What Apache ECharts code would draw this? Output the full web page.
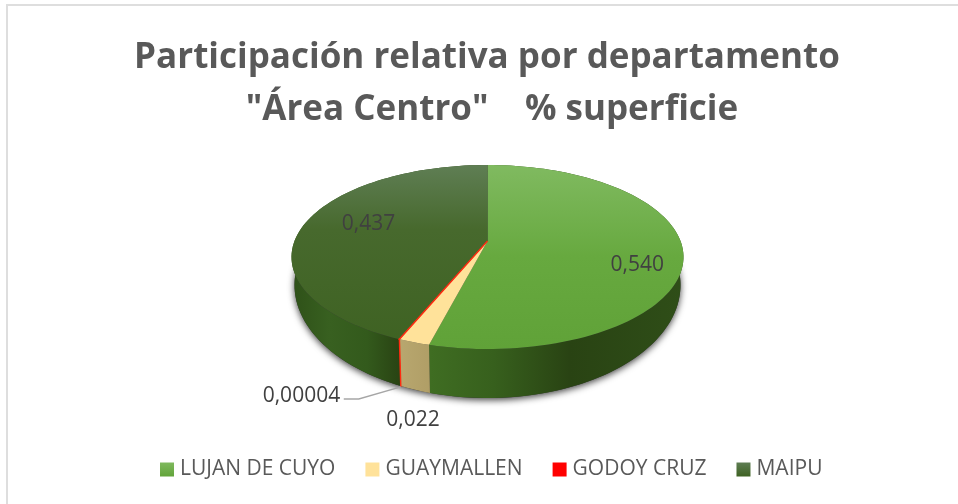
<!DOCTYPE html>
<html><head><meta charset="utf-8">
<style>html,body{margin:0;padding:0;background:#fff}#c{width:958px;height:504px}</style>
<script src="https://cdn.jsdelivr.net/npm/echarts@6/dist/echarts.min.js"></script>
</head><body><div id="c"></div>
<script>
const titleLines = ['Participación relativa por departamento', '"Área Centro"    % superficie'];
const categories = ['LUJAN DE CUYO', 'GUAYMALLEN', 'GODOY CRUZ', 'MAIPU'];
const values = [0.540, 0.022, 0.00004, 0.437];
const valueLabels = ['0,540', '0,022', '0,00004', '0,437'];

const chart = echarts.init(document.getElementById('c'));
const LG = (x0, y0, x1, y1, stops, global) => new echarts.graphic.LinearGradient(x0, y0, x1, y1,
  stops.map(s => ({offset: s[0], color: s[1]})), global);

// projection of the pie disc: perspective ellipse
const G = {cx: 487.5, cy: 257, rx: 196, ry: 92, R: 193, apexY: 241, a: 47.3, c: -0.174,
           bcy: 285, brx: 193, bry: 113};
function topPt(frac) {
  const th = frac * 2 * Math.PI, s = Math.sin(th), t = -Math.cos(th), d = 1 + G.c * t;
  return [G.cx + G.R * s / d, (G.a * t + G.apexY) / d];
}
function botPt(p) {
  return [G.cx + (p[0] - G.cx) / G.rx * G.brx, G.bcy + (p[1] - G.cy) / G.ry * G.bry];
}
function arc(f0, f1) {
  const n = Math.max(2, Math.ceil((f1 - f0) * 180)), out = [];
  for (let i = 0; i <= n; i++) out.push(topPt(f0 + (f1 - f0) * i / n));
  return out;
}
const total = values.reduce((a, b) => a + b, 0);
const starts = values.map((v, i) => values.slice(0, i).reduce((a, b) => a + b, 0));

const styles = [
  {legend: LG(0,0,0,1,[[0,'#7fb95e'],[1,'#62a43a']]),
   top: [[0,'#80ba60'],[0.5,'#67a93f'],[1,'#60a238']],
   side: {x0: 430, x1: 684, stops: [[0,'#3f6d22'],[0.25,'#37601d'],[0.55,'#294313'],[1,'#2f4e18']]},
   lab: [-46, 12]},
  {legend: '#ffe29a',
   top: [[0,'#ffe29a'],[1,'#ffe29a']],
   side: {x0: 400, x1: 430, stops: [[0,'#b8a76f'],[1,'#b09e66']]},
   lab: [-1, 78]},
  {legend: '#ff0000',
   top: [[0,'#ff2a10'],[1,'#ff2a10']],
   side: {x0: 398, x1: 401, stops: [[0,'#f03a18'],[1,'#f03a18']]},
   lab: [-98, 57], line: true},
  {legend: LG(0,0,0,1,[[0,'#5e7d53'],[1,'#3e6222']]),
   top: [[0,'#5f7e54'],[0.35,'#47692d'],[1,'#3e6222']],
   side: {x0: 291, x1: 400, stops: [[0,'#2e5018'],[0.35,'#386020'],[0.7,'#335a1c'],[1,'#294313']]},
   lab: [64, 0]}
];

function render(params, api) {
  const i = params.seriesIndex, st = styles[i];
  const f0 = api.value(0) / total, f1 = (api.value(0) + api.value(1)) / total;
  const thin = f1 - f0 < 0.001;
  const topArc = arc(f0, f1), botArc = topArc.map(botPt).reverse();
  const kids = [];
  if (i === 0) {
    const ring = arc(0, 1).map(botPt);
    kids.push({type: 'polygon', shape: {points: ring},
      style: {fill: '#333', shadowBlur: 7, shadowColor: 'rgba(0,0,0,0.75)', shadowOffsetY: 2}});
  }
  const stroke = thin ? {stroke: st.top[0][1], lineWidth: 1.4} : {};
  kids.push({type: 'polygon', shape: {points: topArc.concat(botArc)},
    style: Object.assign({fill: LG(st.side.x0, 0, st.side.x1, 0, st.side.stops, true)}, stroke)});
  kids.push({type: 'polygon', shape: {points: [[G.cx, G.apexY]].concat(topArc)},
    style: Object.assign({fill: LG(0, G.cy - G.ry, 0, G.cy + G.ry, st.top, true)}, stroke)});
  const mid = topPt((f0 + f1) / 2);
  if (st.line) {
    const b = botPt(mid);
    kids.push({type: 'polyline', shape: {points: [[b[0], b[1] + 1], [b[0] - 42, b[1] + 13], [b[0] - 57, b[1] + 13]]},
      style: {stroke: '#a6a6a6', lineWidth: 1.3, fill: null}});
  }
  kids.push({type: 'text', x: mid[0] + st.lab[0], y: mid[1] + st.lab[1], z2: 50,
    style: {text: valueLabels[i], fill: '#404040', font: '21px "Open Sans"', align: 'center', verticalAlign: 'middle'}});
  return {type: 'group', children: kids};
}

const titleStyle = {fontFamily: 'Open Sans', fontWeight: 'bold', fontSize: 35, lineHeight: 52, color: '#595959'};
chart.setOption({
  animation: false,
  backgroundColor: '#fff',
  title: [
    {text: titleLines[0], left: 482, top: 27, textAlign: 'center', textStyle: titleStyle},
    {text: titleLines[1], left: 487, top: 79, textAlign: 'center', textStyle: titleStyle}
  ],
  legend: {
    data: categories, left: 155, top: 454, icon: 'rect', itemWidth: 14, itemHeight: 14, itemGap: 30,
    textStyle: {fontFamily: 'Open Sans', fontSize: 21, color: '#595959', padding: [0, 0, 0, 1]},
    selectedMode: false
  },
  graphic: [{type: 'polyline', shape: {points: [[7, 504], [7, 5], [958, 5]]},
    style: {stroke: '#dedede', lineWidth: 2, fill: null}, silent: true, z: 0}],
  series: categories.map((name, i) => ({
    type: 'custom', name, coordinateSystem: 'none', z: i === 2 ? 5 : 2 + (i === 0 ? 0 : 1),
    itemStyle: {color: styles[i].legend},
    renderItem: render,
    data: [{name, value: [starts[i], values[i]]}]
  }))
});
</script></body></html>
